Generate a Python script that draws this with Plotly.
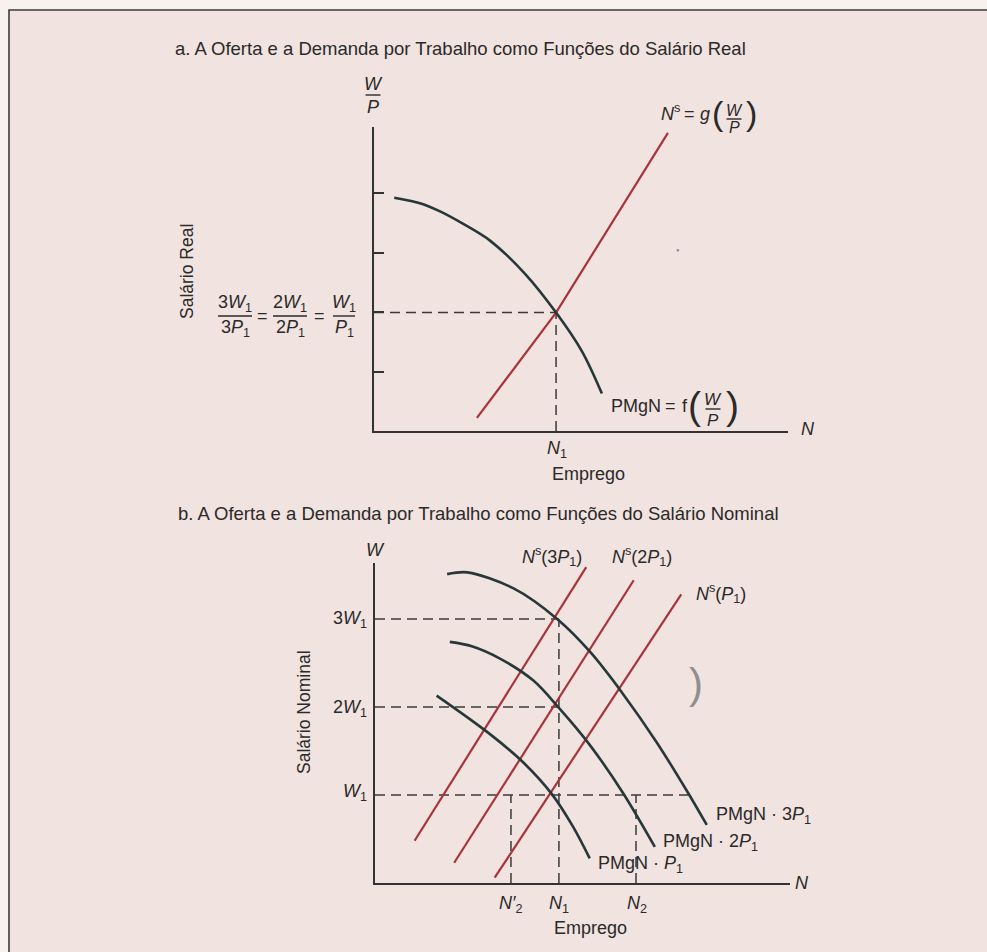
import plotly.graph_objects as go

# ---------------- data ----------------
# Panel a: real wage (W/P) versus employment N  (arbitrary units)
a_demand_N = [0.34, 0.80, 1.11, 1.50, 1.95, 2.55, 3.06, 3.50, 3.83]
a_demand_W = [3.92, 3.82, 3.69, 3.48, 3.20, 2.63, 1.99, 1.33, 0.63]
a_supply_N = [1.73, 3.06, 4.94]
a_supply_W = [0.22, 1.99, 5.01]
a_N1 = 3.06
a_WP1 = 1.99
a_ticks = [1, 2, 3, 4]

# Panel b: nominal wage W versus employment N  (W in units of W1)
b_d3_N = [0.82, 1.05, 1.57, 2.07, 2.45, 2.81, 3.20, 3.56, 3.77]
b_d3_W = [3.51, 3.53, 3.35, 3.00, 2.62, 2.16, 1.60, 1.02, 0.66]
b_d2_N = [0.85, 1.10, 1.42, 1.80, 2.09, 2.44, 2.82, 3.18]
b_d2_W = [2.74, 2.69, 2.55, 2.30, 1.99, 1.57, 1.02, 0.41]
b_d1_N = [0.70, 1.27, 1.68, 2.01, 2.25, 2.44]
b_d1_W = [2.13, 1.72, 1.375, 1.01, 0.64, 0.28]
b_s3_N = [0.45, 2.40]
b_s3_W = [0.48, 3.59]
b_s2_N = [0.90, 2.94]
b_s2_W = [0.23, 3.44]
b_s1_N = [1.36, 3.48]
b_s1_W = [0.06, 3.28]
b_W_levels = [1, 2, 3]
b_N2p = 1.545
b_N1 = 2.09
b_N2 = 2.966
b_W1_line_end = 3.557

# ---------------- styling ----------------
W_FIG, H_FIG = 987, 952
RED = "#a8343a"
DARK = "#26383a"
AX = "#333333"
DASH = "#3a3a3a"
TXT = "#2a2a2a"
FONT = "Liberation Sans, Arial, Helvetica, sans-serif"


def px(x):
    return x / W_FIG


def py(y):
    return 1 - y / H_FIG


fig = go.Figure()


def line(xs, ys, color, width, xa="x", ya="y", dash=None, spline=False):
    fig.add_trace(go.Scatter(
        x=xs, y=ys, mode="lines", xaxis=xa, yaxis=ya, hoverinfo="skip",
        line=dict(color=color, width=width, dash=dash,
                  shape="spline" if spline else "linear", smoothing=0.9),
        showlegend=False))


DASHSTYLE = "10px,6px"

# Panel a
line([0, a_N1], [a_WP1, a_WP1], DASH, 1.5, dash=DASHSTYLE)
line([a_N1, a_N1], [0, a_WP1], DASH, 1.5, dash=DASHSTYLE)
line(a_supply_N, a_supply_W, RED, 2.2)
line(a_demand_N, a_demand_W, DARK, 2.6, spline=True)

# Panel b dashed guides
line([0, b_N1], [b_W_levels[2]] * 2, DASH, 1.5, "x2", "y2", DASHSTYLE)
line([0, b_N1], [b_W_levels[1]] * 2, DASH, 1.5, "x2", "y2", DASHSTYLE)
line([0, b_W1_line_end], [b_W_levels[0]] * 2, DASH, 1.5, "x2", "y2", DASHSTYLE)
line([b_N1, b_N1], [0, b_W_levels[2]], DASH, 1.5, "x2", "y2", DASHSTYLE)
line([b_N2p, b_N2p], [0, b_W_levels[0]], DASH, 1.5, "x2", "y2", DASHSTYLE)
line([b_N2, b_N2], [0, b_W_levels[0]], DASH, 1.5, "x2", "y2", DASHSTYLE)
# supply lines
for xs, ys in [(b_s3_N, b_s3_W), (b_s2_N, b_s2_W), (b_s1_N, b_s1_W)]:
    line(xs, ys, RED, 2.2, "x2", "y2")
# demand curves
for xs, ys in [(b_d3_N, b_d3_W), (b_d2_N, b_d2_W), (b_d1_N, b_d1_W)]:
    line(xs, ys, DARK, 2.6, "x2", "y2", spline=True)

# ---------------- annotations ----------------
ann = []
shapes = []


def t(x, y, text, size=18, xanchor="center", angle=0, color=TXT):
    ann.append(dict(x=px(x), y=py(y), xref="paper", yref="paper", text=text,
                    showarrow=False, xanchor=xanchor, yanchor="middle",
                    textangle=angle, font=dict(family=FONT, size=size, color=color)))


def frac(xc, yb, num, den, w, size=18, dn=11, dd=12):
    t(xc, yb - dn, num, size)
    t(xc, yb + dd, den, size)
    shapes.append(dict(type="line", xref="paper", yref="paper",
                       x0=px(xc - w / 2), x1=px(xc + w / 2), y0=py(yb), y1=py(yb),
                       line=dict(color=TXT, width=1.4)))


# frame / paper
shapes.append(dict(type="rect", xref="paper", yref="paper", layer="below",
                   x0=px(9), x1=1.05, y0=-0.05, y1=py(10),
                   fillcolor="#f1e3df", line=dict(color="#3c3c3c", width=1.6)))

# Panel a texts
t(173, 48, "a. A Oferta e a Demanda por Trabalho como Funções do Salário Real", 18.5, "left")
frac(373, 95, "<i>W</i>", "<i>P</i>", 15)
t(187, 272, "Salário Real", 17.5, angle=-90)
frac(235, 316, "3<i>W</i><sub>1</sub>", "3<i>P</i><sub>1</sub>", 34, dn=13, dd=12)
t(262, 316, "=", 18)
frac(290, 316, "2<i>W</i><sub>1</sub>", "2<i>P</i><sub>1</sub>", 34, dn=13, dd=12)
t(319, 316, "=", 18)
frac(344, 316, "<i>W</i><sub>1</sub>", "<i>P</i><sub>1</sub>", 22, dn=13, dd=12)
# N^s = g(W/P)
t(659, 112, "<i>N</i><sup>s</sup>", 18, "left")
t(689, 114, "=", 18)
t(705, 114, "<i>g</i>", 18)
t(718, 113, "(", 34)
frac(734, 119, "<i>W</i>", "<i>P</i>", 15, size=16, dn=8.5, dd=9)
t(751, 113, ")", 34)
# PMgN = f(W/P)
t(609, 406, "PMgN", 18, "left")
t(670, 406, "=", 18)
t(685, 406, "f", 18)
t(694, 405, "(", 39)
frac(713, 409, "<i>W</i>", "<i>P</i>", 15, size=17, dn=10, dd=11)
t(732, 405, ")", 39)
t(808, 429, "<i>N</i>", 18)
t(557, 449, "<i>N</i><sub>1</sub>", 18)
t(588, 474, "Emprego", 18)
t(678, 250, "●", 6, color="#8a8a8a")

# Panel b texts
t(176, 513, "b. A Oferta e a Demanda por Trabalho como Funções do Salário Nominal", 18.5, "left")
t(375, 550, "<i>W</i>", 18)
t(369, 619, "3<i>W</i><sub>1</sub>", 18, "right")
t(369, 708, "2<i>W</i><sub>1</sub>", 18, "right")
t(369, 792, "<i>W</i><sub>1</sub>", 18, "right")
t(304, 712, "Salário Nominal", 17.5, angle=-90)
t(552, 556, "<i>N</i><sup>s</sup>(3<i>P</i><sub>1</sub>)", 18)
t(642, 556, "<i>N</i><sup>s</sup>(2<i>P</i><sub>1</sub>)", 18)
t(721, 593, "<i>N</i><sup>s</sup>(<i>P</i><sub>1</sub>)", 18)
t(714, 815, "PMgN · 3<i>P</i><sub>1</sub>", 18, "left")
t(661, 842, "PMgN · 2<i>P</i><sub>1</sub>", 18, "left")
t(596, 864, "PMgN · <i>P</i><sub>1</sub>", 18, "left")
t(802, 883, "<i>N</i>", 18)
t(511, 904, "<i>N′</i><sub>2</sub>", 18)
t(559, 904, "<i>N</i><sub>1</sub>", 18)
t(637, 904, "<i>N</i><sub>2</sub>", 18)
t(590, 928, "Emprego", 18)
t(696, 683, ")", 42, color="#8f8f8f")

axis_common = dict(showline=True, linewidth=2, linecolor=AX, showgrid=False,
                   zeroline=False, showticklabels=False, fixedrange=True)

fig.update_layout(
    width=W_FIG, height=H_FIG,
    margin=dict(l=0, r=0, t=0, b=0),
    paper_bgcolor="#f8f2ef",
    plot_bgcolor="rgba(0,0,0,0)",
    showlegend=False,
    xaxis=dict(domain=[px(374), px(788)], range=[0, 414 / 59.5], anchor="y",
               ticks="", **axis_common),
    yaxis=dict(domain=[py(431), py(127)], range=[0, 304 / 59.5], anchor="x",
               ticks="inside", tickvals=a_ticks, ticklen=10, tickwidth=1.5,
               tickcolor=AX, **axis_common),
    xaxis2=dict(domain=[px(375), px(790)], range=[0, 415 / 88], anchor="y2",
                ticks="", **axis_common),
    yaxis2=dict(domain=[py(883), py(563)], range=[0, 320 / 88], anchor="x2",
                ticks="", **axis_common),
    annotations=ann,
    shapes=shapes,
)

fig.write_html(
    "out.html",
    config={"displayModeBar": False},
    post_script="document.body.style.margin='0';document.body.style.overflow='hidden';",
)
